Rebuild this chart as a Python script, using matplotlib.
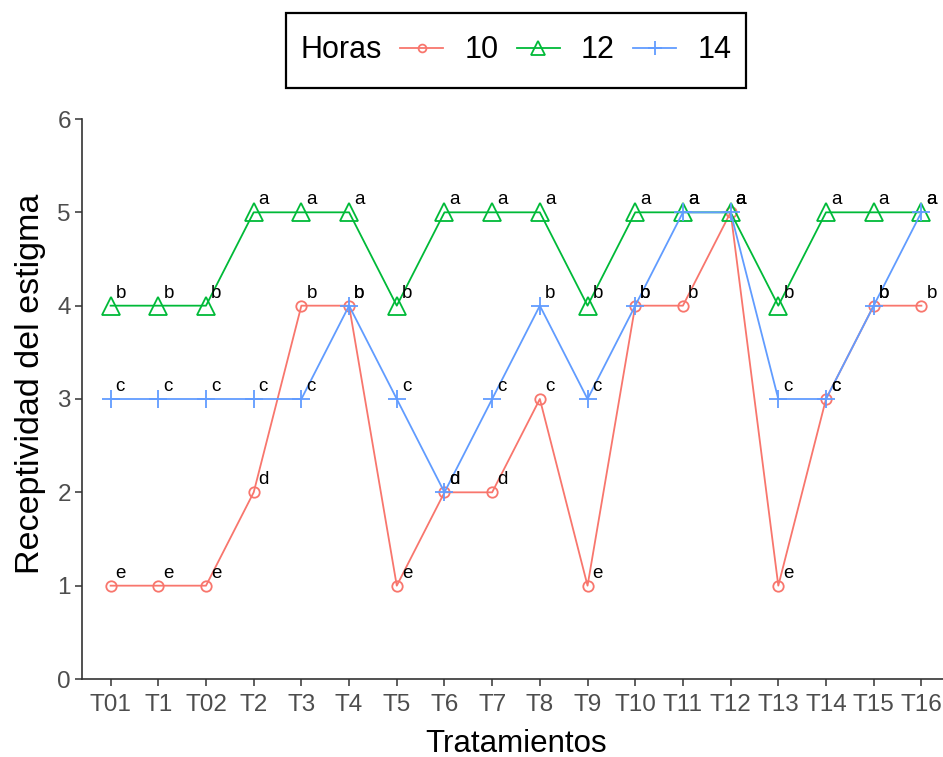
import matplotlib
matplotlib.use("Agg")
import matplotlib.pyplot as plt
from matplotlib.lines import Line2D
from matplotlib.patches import Rectangle
from matplotlib.offsetbox import HPacker

plt.rcParams['font.family'] = ['Liberation Sans', 'DejaVu Sans']

# Treatments on the x axis
tratamientos = ["T01", "T1", "T02", "T2", "T3", "T4", "T5", "T6", "T7",
                "T8", "T9", "T10", "T11", "T12", "T13", "T14", "T15", "T16"]
horas = ["10", "12", "14"]

# Stigma receptivity per hour
rec_10 = [1, 1, 1, 2, 4, 4, 1, 2, 2, 3, 1, 4, 4, 5, 1, 3, 4, 4]
rec_12 = [4, 4, 4, 5, 5, 5, 4, 5, 5, 5, 4, 5, 5, 5, 4, 5, 5, 5]
rec_14 = [3, 3, 3, 3, 3, 4, 3, 2, 3, 4, 3, 4, 5, 5, 3, 3, 4, 5]

# Significance letters
let_10 = list("eeedbbeddcebbaecbb")
let_12 = list("bbbaaabaaabaaabaaa")
let_14 = list("cccccbcdcbcbaaccba")

colores = ["#F8766D", "#00BA38", "#619CFF"]
marcadores = ["o", "^", "+"]
tam_marc = [7.5, 13, 13.5]

series = [rec_10, rec_12, rec_14]
letras = [let_10, let_12, let_14]

W, H = 943, 757
fig = plt.figure(figsize=(W / 100, H / 100), dpi=100)
ax = fig.add_axes([82 / W, 1 - 679 / H, (950 - 82) / W, (679 - 119) / H])

x = list(range(len(tratamientos)))
for vals, col, mk, ms in zip(series, colores, marcadores, tam_marc):
    ax.plot(x, vals, color=col, marker=mk, markersize=ms, markerfacecolor="none",
            markeredgecolor=col, markeredgewidth=1.3, linewidth=1.3)

for vals, lets in zip(series, letras):
    for i, (v, l) in enumerate(zip(vals, lets)):
        ax.annotate(l, (i, v), xytext=(5, 8), textcoords="offset pixels",
                    fontsize=13.5, ha="left", va="baseline", color="black")

ax.set_xlim(-0.6, len(tratamientos) - 0.4)
ax.set_ylim(0, 6)
ax.set_xticks(x)
ax.set_xticklabels(tratamientos)
ax.set_yticks(range(0, 7))

for s in ["top", "right"]:
    ax.spines[s].set_visible(False)
for s in ["left", "bottom"]:
    ax.spines[s].set_color("#333333")
    ax.spines[s].set_linewidth(1.2)

ax.tick_params(direction="out", length=5, width=1.1, color="#333333",
               labelcolor="#4D4D4D", labelsize=17.5)
ax.tick_params(axis="x", pad=6)
ax.tick_params(axis="y", pad=3)

ax.set_xlabel("Tratamientos", fontsize=22.5, color="black", labelpad=9)
ax.set_ylabel("Receptividad del estigma", fontsize=24.5, color="black")
ax.yaxis.set_label_coords(-0.0414, 0.527)

handles = [Line2D([0], [0], color=c, marker=m, markersize=s, markerfacecolor="none",
                  markeredgecolor=c, markeredgewidth=1.3, linewidth=1.3)
           for c, m, s in zip(colores, marcadores, tam_marc)]
leg = fig.legend(handles, horas, title="Horas", loc="center",
                 bbox_to_anchor=(516 / W, 1 - 50.5 / H), ncol=3,
                 fontsize=22, title_fontsize=22, frameon=False,
                 handlelength=1.4, handletextpad=0.7, columnspacing=0.6,
                 borderpad=0.45, markerscale=0.75)

# Put the legend title on the same row as the entries
box = leg._legend_box
row = HPacker(pad=box.pad, sep=13, align="center", children=box.get_children())
row.set_figure(fig)
row.set_offset(leg._findoffset)
leg._legend_box = row

# Legend frame
fig.add_artist(Rectangle((286 / W, 1 - 88 / H), (746 - 286) / W, 75 / H,
                         transform=fig.transFigure, facecolor="none",
                         edgecolor="black", linewidth=1.6))

fig.savefig("out.png", dpi=100)
